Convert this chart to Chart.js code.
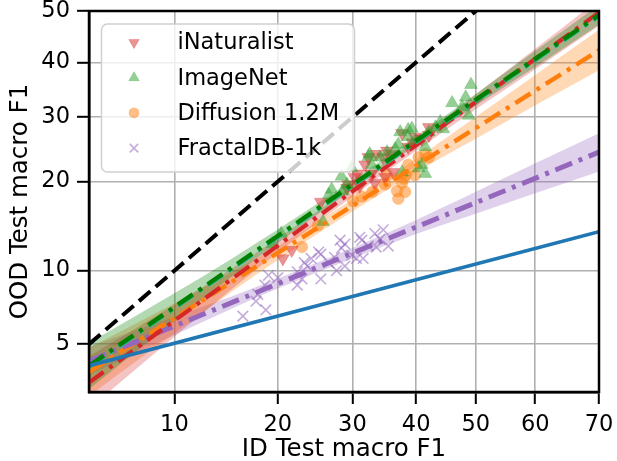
<!DOCTYPE html>
<html>
<head>
<meta charset="utf-8">
<script src="https://cdn.jsdelivr.net/npm/chart.js@4.4.1/dist/chart.umd.min.js"></script>
<style>
  html, body { margin: 0; padding: 0; background: #fff; }
</style>
</head>
<body>
<canvas id="chart" width="617" height="461"></canvas>
<script>
// axis setup (probit scaled, values in %)
const xTicks = [10, 20, 30, 40, 50, 60, 70];
const yTicks = [5, 10, 20, 30, 40, 50];
const xRange = [5, 70];
const yRange = [3, 50];

// scatter series
const inatX = [40.9, 42.1, 39.8, 37.7, 38.7, 36.1, 33.6, 32.4, 30.8, 30.3, 36.3, 35.0, 32.9, 29.4, 21.7, 20.6, 33.4, 25.5, 31.1, 34.7, 39.4, 35.3, 42.1, 31.9, 29.2];
const inatY = [26.4, 27.0, 26.7, 27.3, 25.1, 24.0, 24.0, 23.5, 21.1, 20.6, 21.3, 20.6, 21.1, 19.6, 11.9, 11.1, 19.8, 17.3, 19.4, 23.5, 25.8, 24.5, 28.3, 22.4, 19.1];

const imnetX = [49.2, 46.0, 47.7, 48.8, 48.3, 44.0, 43.2, 44.5, 42.1, 39.3, 37.4, 38.7, 39.8, 37.1, 35.3, 34.2, 32.4, 32.9, 36.6, 40.9, 41.5, 40.4, 37.7, 28.4, 29.2, 26.6, 28.6, 25.8, 20.4, 29.9, 38.7, 41.5, 32.6, 27.0, 19.4];
const imnetY = [35.8, 32.5, 31.8, 30.3, 33.5, 29.2, 28.3, 28.0, 27.5, 28.1, 27.5, 26.7, 26.1, 25.5, 24.3, 23.5, 23.6, 22.4, 24.8, 22.4, 21.1, 21.9, 21.3, 20.7, 19.6, 18.2, 18.7, 14.9, 13.6, 21.9, 27.9, 25.1, 24.0, 18.9, 12.5];

const diffX = [36.9, 38.2, 37.7, 38.3, 39.8, 38.7, 41.5, 42.1, 37.1, 35.0, 31.4, 25.1, 23.0, 30.1, 40.4, 38.0, 35.3, 33.0];
const diffY = [18.7, 18.6, 19.8, 20.9, 20.9, 22.4, 24.0, 23.5, 17.7, 19.6, 18.0, 14.5, 12.2, 17.4, 23.5, 20.4, 20.9, 18.6];

const fracX = [33.4, 34.7, 34.2, 33.6, 31.4, 31.6, 29.9, 28.2, 28.4, 27.4, 28.9, 26.6, 25.5, 24.2, 23.7, 22.4, 23.0, 25.5, 20.0, 18.9, 18.5, 17.7, 18.6, 16.1, 17.5, 31.1, 28.9, 25.2, 23.3, 30.6, 27.7, 22.4, 35.5, 32.4];
const fracY = [13.6, 14.0, 13.0, 12.2, 12.9, 11.1, 11.4, 12.9, 12.1, 11.2, 10.4, 10.7, 11.5, 11.1, 10.4, 9.9, 9.3, 9.3, 9.4, 9.6, 8.8, 8.1, 7.0, 6.6, 7.6, 13.2, 12.5, 11.7, 10.7, 11.1, 10.0, 8.8, 12.3, 12.3];

// fitted lines (end points)
const fitX = [5, 70];
const inatFit = [3.33, 49.7];
const imnetFit = [3.99, 49.2];
const tealFit = [3.95, 49.0];
const diffFit = [3.74, 42.3];
const fracFit = [4.2, 24.3];
const blueFit = [4.0, 13.8];
const diagX = [5, 70];
const diagY = [5, 70];

// confidence bands
const bandX = [5, 10, 15, 20, 30, 40, 50, 60, 70];
const inatLo = [2.48, 5.39, 8.5, 11.65, 18.0, 24.5, 31.4, 38.7, 47.1];
const inatHi = [4.41, 7.35, 10.2, 13.1, 19.3, 26.3, 34.0, 42.6, 52.3];
const imnetLo = [3.1, 6.28, 9.5, 12.6, 18.9, 25.4, 32.0, 39.1, 47.3];
const imnetHi = [5.07, 8.17, 11.1, 14.03, 20.2, 26.8, 34.1, 42.2, 51.2];
const diffLo = [2.87, 5.58, 8.3, 10.95, 16.1, 21.3, 26.4, 32.1, 38.5];
const diffHi = [4.82, 7.46, 9.9, 12.3, 17.6, 23.3, 30.05, 37.6, 46.3];
const fracLo = [3.62, 5.48, 7.1, 8.53, 11.1, 13.55, 15.85, 18.4, 21.4];
const fracHi = [4.87, 6.56, 7.95, 9.33, 12.1, 15.1, 18.6, 22.6, 27.3];

const FONT = 'DejaVu Sans';
Chart.defaults.font.family = FONT;
Chart.defaults.color = '#000';

// inverse normal cdf (Acklam) and normal cdf for the probit axis
function normInv(p) {
  const a = [-39.69683028665376, 220.9460984245205, -275.9285104469687, 138.3577518672690, -30.66479806614716, 2.506628277459239];
  const b = [-54.47609879822406, 161.5858368580409, -155.6989798598866, 66.80131188771972, -13.28068155288572];
  const c = [-0.007784894002430293, -0.3223964580411365, -2.400758277161838, -2.549732539343734, 4.374664141464968, 2.938163982698783];
  const d = [0.007784695709041462, 0.3224671290700398, 2.445134137142996, 3.754408661907416];
  const pl = 0.02425;
  if (p < pl) {
    const q = Math.sqrt(-2 * Math.log(p));
    return (((((c[0]*q+c[1])*q+c[2])*q+c[3])*q+c[4])*q+c[5]) / ((((d[0]*q+d[1])*q+d[2])*q+d[3])*q+1);
  }
  if (p > 1 - pl) {
    const q = Math.sqrt(-2 * Math.log(1 - p));
    return -(((((c[0]*q+c[1])*q+c[2])*q+c[3])*q+c[4])*q+c[5]) / ((((d[0]*q+d[1])*q+d[2])*q+d[3])*q+1);
  }
  const q = p - 0.5, r = q * q;
  return (((((a[0]*r+a[1])*r+a[2])*r+a[3])*r+a[4])*r+a[5])*q / (((((b[0]*r+b[1])*r+b[2])*r+b[3])*r+b[4])*r+1);
}
function normCdf(z) {
  const t = 1 / (1 + 0.3275911 * Math.abs(z) / Math.SQRT2);
  const e = 1 - (((((1.061405429*t - 1.453152027)*t) + 1.421413741)*t - 0.284496736)*t + 0.254829592)*t*Math.exp(-z*z/2);
  return z >= 0 ? (1 + e) / 2 : (1 - e) / 2;
}

class ProbitScale extends Chart.Scale {
  determineDataLimits() {
    this.min = this.options.min;
    this.max = this.options.max;
  }
  buildTicks() { return []; }
  configure() {
    super.configure();
    this._zMin = normInv(this.min / 100);
    this._zMax = normInv(this.max / 100);
  }
  getLabelForValue(v) { return String(v); }
  getPixelForValue(v) {
    const z = normInv(v / 100);
    return this.getPixelForDecimal((z - this._zMin) / (this._zMax - this._zMin));
  }
  getValueForPixel(px) {
    return 100 * normCdf(this._zMin + this.getDecimalForPixel(px) * (this._zMax - this._zMin));
  }
  getPixelForTick(i) { return this.getPixelForValue(this.ticks[i].value); }
}
ProbitScale.id = 'probit';
ProbitScale.defaults = {};
Chart.register(ProbitScale);

const pts = (xs, ys) => xs.map((x, i) => ({ x: x, y: ys[i] }));
const DASHDOT = [18, 7, 4, 7];

const datasets = [];
function fitLine(label, ys, color, order, dash, width) {
  datasets.push({ label, data: pts(fitX, ys), borderColor: color, borderWidth: width || 4.5,
    borderDash: dash, pointRadius: 0, order, clip: 0 });
}
function scatter(label, xs, ys, style, rot, radius, fill, stroke, bw, order) {
  datasets.push({ label, data: pts(xs, ys), showLine: false, pointStyle: style, pointRotation: rot,
    pointRadius: radius, pointBackgroundColor: fill, pointBorderColor: stroke, pointBorderWidth: bw,
    order });
}
function band(lo, hi, color, order) {
  datasets.push({ data: pts(bandX, hi), borderWidth: 0, pointRadius: 0, fill: '+1',
    backgroundColor: color, cubicInterpolationMode: 'monotone', order, clip: 0 });
  datasets.push({ data: pts(bandX, lo), borderWidth: 0, pointRadius: 0, fill: false,
    cubicInterpolationMode: 'monotone', order, clip: 0 });
}

datasets.push({ label: 'y=x', data: pts(diagX, diagY), borderColor: '#000', borderWidth: 4,
  borderDash: [15, 7], pointRadius: 0, order: 0, clip: 0 });
fitLine('blue', blueFit, '#1f77b4', 1, [], 3.6);
fitLine('ImageNet fit', imnetFit, '#008000', 2, DASHDOT);
fitLine('teal', tealFit, '#22bfa0', 3, DASHDOT);
fitLine('iNaturalist fit', inatFit, '#d62728', 4, DASHDOT, 4.2);
fitLine('FractalDB fit', fracFit, '#9467bd', 5, DASHDOT, 5);
fitLine('Diffusion fit', diffFit, '#ff7f0e', 6, DASHDOT);
scatter('ImageNet', imnetX, imnetY, 'triangle', 0, 7.5, 'rgba(44,160,44,0.5)', 'rgba(44,160,44,0.5)', 0.5, 7);
scatter('iNaturalist', inatX, inatY, 'triangle', 180, 7.5, 'rgba(214,39,40,0.5)', 'rgba(214,39,40,0.5)', 0.5, 8);
scatter('Diffusion 1.2M', diffX, diffY, 'circle', 0, 5.8, 'rgba(255,127,14,0.5)', 'rgba(255,127,14,0.5)', 0.5, 9);
scatter('FractalDB-1k', fracX, fracY, 'crossRot', 0, 7.5, 'rgba(148,103,189,0.55)', 'rgba(148,103,189,0.55)', 1.6, 10);
band(imnetLo, imnetHi, 'rgba(0,128,0,0.3)', 11);
band(inatLo, inatHi, 'rgba(214,39,40,0.28)', 12);
band(diffLo, diffHi, 'rgba(255,127,14,0.3)', 13);
band(fracLo, fracHi, 'rgba(148,103,189,0.3)', 14);

const legendOrder = ['iNaturalist', 'ImageNet', 'Diffusion 1.2M', 'FractalDB-1k'];

// matplotlib-like legend box inside the axes
const insetLegend = {
  id: 'insetLegend',
  afterDraw(chart) {
    const ctx = chart.ctx, a = chart.chartArea;
    const x0 = a.left + 12.5, y0 = a.top + 13, w = 253, h = 148;
    ctx.save();
    ctx.beginPath();
    ctx.roundRect(x0, y0, w, h, 6);
    ctx.fillStyle = 'rgba(255,255,255,0.8)';
    ctx.fill();
    ctx.strokeStyle = '#d0d0d0';
    ctx.lineWidth = 1.5;
    ctx.stroke();
    ctx.font = '22.5px "' + FONT + '"';
    ctx.textBaseline = 'middle';
    legendOrder.forEach((name, i) => {
      const ds = chart.data.datasets.find(d => d.label === name);
      const cy = y0 + 18.5 + i * 35.2;
      ctx.fillStyle = ds.pointBackgroundColor;
      ctx.strokeStyle = ds.pointBorderColor;
      ctx.lineWidth = ds.pointBorderWidth;
      Chart.helpers.drawPoint(ctx, { pointStyle: ds.pointStyle, rotation: ds.pointRotation,
        radius: ds.pointStyle === 'circle' ? 5 : 6, borderWidth: ds.pointBorderWidth }, x0 + 32.5, cy);
      ctx.fillStyle = '#000';
      ctx.fillText(name, x0 + 76, cy + 1);
    });
    ctx.restore();
  }
};

// full black frame round the axes
const frame = {
  id: 'frame',
  afterDatasetsDraw(chart) {
    const ctx = chart.ctx, a = chart.chartArea;
    ctx.save();
    ctx.strokeStyle = '#000';
    ctx.lineWidth = 2.5;
    ctx.strokeRect(a.left, a.top, a.right - a.left, a.bottom - a.top);
    ctx.restore();
  }
};

const gridOpts = { color: '#b0b0b0', lineWidth: 1.6, tickLength: 12, tickColor: '#000', tickWidth: 2 };

new Chart(document.getElementById('chart'), {
  type: 'line',
  data: { datasets },
  options: {
    responsive: false,
    devicePixelRatio: 1,
    animation: false,
    events: [],
    layout: { padding: { top: 11, right: 18, left: 0, bottom: 0 } },
    plugins: { legend: { display: false }, tooltip: { enabled: false } },
    scales: {
      x: {
        type: 'probit', position: 'bottom', min: xRange[0], max: xRange[1],
        afterBuildTicks: s => { s.ticks = xTicks.map(v => ({ value: v })); },
        afterFit: s => { s.height = 69; s.paddingLeft = 0; s.paddingRight = 0; },
        grid: gridOpts,
        border: { color: '#000', width: 2.5 },
        ticks: { font: { size: 22.5 }, color: '#000', padding: 8, maxRotation: 0, autoSkip: false },
        title: { display: true, text: 'ID Test macro F1', font: { size: 24.5 }, color: '#000', padding: { top: 0, bottom: -3 } }
      },
      y: {
        type: 'probit', position: 'left', min: yRange[0], max: yRange[1],
        afterBuildTicks: s => { s.ticks = yTicks.map(v => ({ value: v })); },
        afterFit: s => { s.width = 89; s.paddingTop = 0; s.paddingBottom = 0; },
        grid: gridOpts,
        border: { color: '#000', width: 2.5 },
        ticks: { font: { size: 22.5 }, color: '#000', padding: 7, autoSkip: false },
        title: { display: true, text: 'OOD Test macro F1', font: { size: 24.5 }, color: '#000', padding: { top: 6, bottom: 0 } }
      }
    }
  },
  plugins: [frame, insetLegend]
});
</script>
</body>
</html>
